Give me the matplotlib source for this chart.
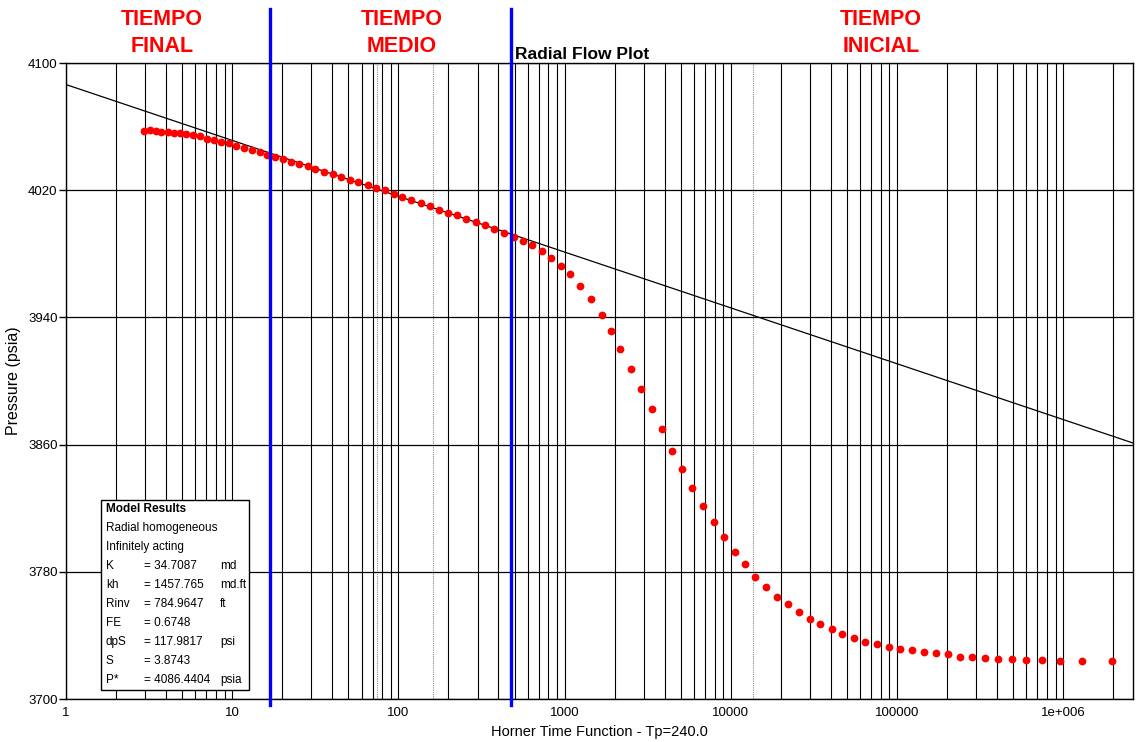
import numpy as np
import matplotlib
matplotlib.use("Agg")
import matplotlib.pyplot as plt
from matplotlib.ticker import LogLocator, NullFormatter
from matplotlib.patches import Rectangle

plt.rcParams['font.family'] = ['Liberation Sans', 'DejaVu Sans']

# Horner time function and pressure readings (psia)
horner_time = [2.96, 3.20, 3.47, 3.75, 4.09, 4.45, 4.85, 5.27, 5.79, 6.37,
               7.08, 7.80, 8.56, 9.53, 10.5, 11.73, 13.1, 14.64, 16.2, 18.09,
               20.22, 22.59, 25.23, 28.58, 31.6, 35.5, 40.2, 45.3, 51.2, 57.4,
               65.4, 73.3, 83.1, 94.1, 105.6, 119.6, 136.2, 155, 174.8, 198,
               224.3, 254.1, 293.1, 331.9, 376, 432, 494, 562, 639, 734,
               832, 955, 1082, 1243, 1441, 1674, 1897, 2163, 2502, 2874,
               3334, 3844, 4416, 5072, 5825, 6823, 7869, 9040, 10527, 12140,
               14027, 16334, 18836, 22028, 25620, 29830, 34560, 40470, 46870, 54900,
               64480, 75500, 89160, 104700, 122600, 145400, 171700, 201900, 239400, 283900,
               337100, 406900, 489900, 599800, 748400, 960800, 1292000, 1974000]
pressure = [4057.4, 4057.7, 4057.4, 4056.6, 4056.6, 4056.0, 4056.0, 4055.2, 4054.5, 4053.9,
            4052.4, 4051.6, 4050.3, 4049.5, 4048.0, 4046.7, 4045.3, 4043.8, 4042.3, 4041.1,
            4039.6, 4037.7, 4036.5, 4035.0, 4033.5, 4031.4, 4030.2, 4028.5, 4026.6, 4025.2,
            4023.3, 4021.6, 4019.9, 4017.8, 4015.7, 4014.0, 4012.0, 4010.1, 4007.7, 4005.7,
            4004.4, 4002.1, 4000.0, 3997.9, 3995.8, 3992.9, 3990.6, 3988.1, 3985.5, 3981.8,
            3977.5, 3972.5, 3967.1, 3959.9, 3951.6, 3941.7, 3931.3, 3919.9, 3907.4, 3894.8,
            3882.2, 3869.6, 3856.2, 3844.5, 3832.5, 3821.2, 3811.5, 3801.7, 3792.5, 3784.9,
            3776.9, 3770.6, 3764.3, 3759.6, 3754.7, 3750.3, 3747.0, 3744.0, 3740.9, 3738.6,
            3735.8, 3734.4, 3732.9, 3731.4, 3730.8, 3729.6, 3728.9, 3728.1, 3726.6, 3726.6,
            3726.0, 3725.3, 3725.3, 3724.7, 3724.7, 3723.9, 3723.9, 3723.9]

# semilog straight line (radial flow) end points
line_x = [1, 2.63e6]
line_p = [4086.44, 3861.0]

# flow period limits and marker lines
period_limits = [16.95, 475]
dotted_x = [74.7, 160.9, 13650, 2.0e6]

x_ticks = [1, 10, 100, 1000, 10000, 100000, 1e6]
x_ticklabels = ['1', '10', '100', '1000', '10000', '100000', '1e+006']
y_ticks = [3700, 3780, 3860, 3940, 4020, 4100]

res_names = ['K', 'kh', 'Rinv', 'FE', 'dpS', 'S', 'P*']
res_values = ['34.7087', '1457.765', '784.9647', '0.6748', '117.9817', '3.8743', '4086.4404']
res_units = ['md', 'md.ft', 'ft', '', 'psi', '', 'psia']

fig = plt.figure(figsize=(11.4, 7.42), dpi=100)
ax = fig.add_axes([66 / 1140, 43 / 742, 1067 / 1140, 636 / 742])

ax.set_xscale('log')
ax.set_xlim(1, 2.63e6)
ax.set_ylim(3700, 4100)
ax.set_xticks(x_ticks)
ax.set_xticklabels(x_ticklabels)
ax.xaxis.set_minor_locator(LogLocator(base=10, subs=np.arange(2, 10), numticks=100))
ax.xaxis.set_minor_formatter(NullFormatter())
ax.set_yticks(y_ticks)
ax.tick_params(axis='x', which='both', length=0, labelsize=9.5, pad=6)
ax.tick_params(axis='y', length=5, width=1, labelsize=9.5, pad=1)
ax.grid(True, which='both', axis='x', color='black', lw=0.8)
ax.grid(True, which='major', axis='y', color='black', lw=0.9)
for s in ax.spines.values():
    s.set_linewidth(1.0)

for xd in dotted_x:
    ax.axvline(xd, color='#888888', lw=0.8, ls=(0, (1, 1)), zorder=1)

ax.plot(line_x, line_p, color='black', lw=0.9, zorder=3)
ax.plot(horner_time, pressure, 'o', color='red', ms=5.6, mec='none', zorder=4)

for xb in period_limits:
    ax.axvline(xb, ymin=-0.01, ymax=1.085, color='#0000ff', lw=2.4, clip_on=False, zorder=5)

ax.set_xlabel('Horner Time Function - Tp=240.0', fontsize=10.5, labelpad=4)
ax.set_ylabel('Pressure (psia)', fontsize=11.5, labelpad=5)

# flow period headers
for xc, txt in [(162, 'TIEMPO\nFINAL'), (402, 'TIEMPO\nMEDIO'), (881, 'TIEMPO\nINICIAL')]:
    fig.text(xc / 1140, 1 - 33 / 742, txt, color='red', fontsize=15.5, fontweight='bold',
             ha='center', va='center', linespacing=1.35)
fig.text(515 / 1140, 1 - 59 / 742, 'Radial Flow Plot', fontsize=12.5, fontweight='bold',
         ha='left', va='baseline')

# model results box
ax.add_patch(Rectangle((35 / 1067, 9 / 636), 148 / 1067, 190 / 636, transform=ax.transAxes,
                       facecolor='white', edgecolor='black', lw=1.0, zorder=6))

def ay(py):
    return (699 - py) / 636

ax.text(40 / 1067, ay(509), 'Model Results', transform=ax.transAxes, fontsize=8.5,
        fontweight='bold', va='center', zorder=7)
ax.text(40 / 1067, ay(528), 'Radial homogeneous', transform=ax.transAxes, fontsize=8.5,
        va='center', zorder=7)
ax.text(40 / 1067, ay(547), 'Infinitely acting', transform=ax.transAxes, fontsize=8.5,
        va='center', zorder=7)
for i, (n, v, u) in enumerate(zip(res_names, res_values, res_units)):
    yy = ay(566 + 19 * i)
    ax.text(40 / 1067, yy, n, transform=ax.transAxes, fontsize=8.5, va='center', zorder=7)
    ax.text(78 / 1067, yy, '= ' + v, transform=ax.transAxes, fontsize=8.5, va='center', zorder=7)
    ax.text(154 / 1067, yy, u, transform=ax.transAxes, fontsize=8.5, va='center', zorder=7)

fig.savefig('out.png', dpi=100)
